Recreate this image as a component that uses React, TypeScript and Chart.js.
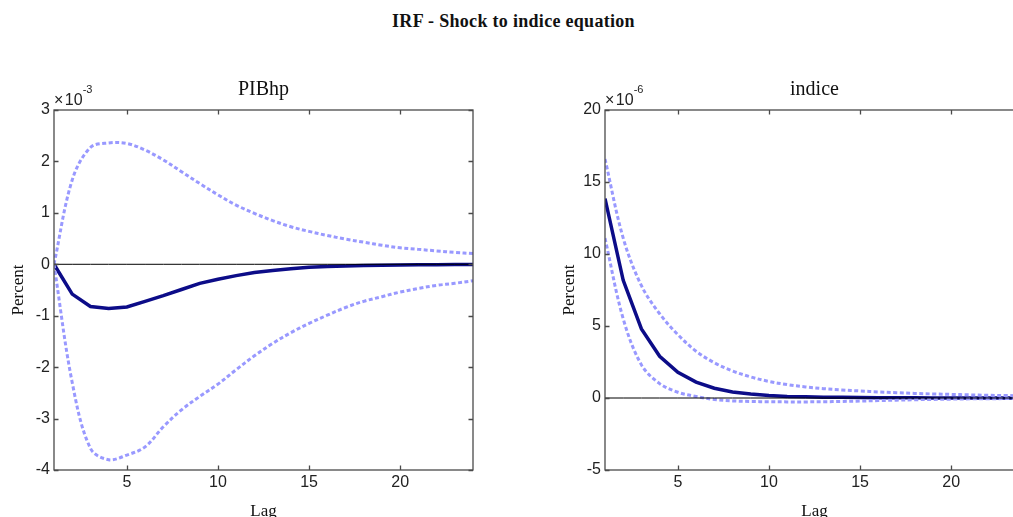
import React, { useEffect, useRef } from "react";
import { Chart, registerables } from "chart.js";

Chart.register(...registerables);

// ---- data ----
const lags = [1, 2, 3, 4, 5, 6, 7, 8, 9, 10, 11, 12, 13, 14, 15, 16, 17, 18, 19, 20, 21, 22, 23, 24];
const xTickValues = [5, 10, 15, 20];

// PIBhp response (units of 1e-3)
const pibhpMedian = [0, -0.58, -0.82, -0.86, -0.83, -0.72, -0.61, -0.49, -0.37, -0.29, -0.22, -0.16, -0.12, -0.085, -0.06, -0.045, -0.033, -0.024, -0.018, -0.013, -0.01, -0.007, -0.005, -0.004];
const pibhpUpper = [0, 1.64, 2.27, 2.36, 2.35, 2.22, 2.03, 1.8, 1.57, 1.35, 1.15, 0.99, 0.85, 0.73, 0.64, 0.56, 0.49, 0.43, 0.37, 0.32, 0.29, 0.26, 0.23, 0.21];
const pibhpLower = [0, -2.3, -3.58, -3.8, -3.71, -3.55, -3.16, -2.83, -2.57, -2.33, -2.05, -1.78, -1.54, -1.33, -1.15, -0.99, -0.84, -0.72, -0.63, -0.54, -0.47, -0.41, -0.37, -0.32];
const pibhpYTicks = [-4, -3, -2, -1, 0, 1, 2, 3];

// indice response (units of 1e-6)
const indiceMedian = [13.85, 8.17, 4.8, 2.9, 1.79, 1.1, 0.68, 0.42, 0.27, 0.17, 0.11, 0.08, 0.06, 0.045, 0.03, 0.02, 0.015, 0.01, 0.007, 0.005, 0.004, 0.003, 0.002, 0.001];
const indiceUpper = [16.6, 11.1, 7.8, 5.85, 4.4, 3.25, 2.45, 1.88, 1.46, 1.15, 0.93, 0.77, 0.65, 0.56, 0.49, 0.42, 0.37, 0.32, 0.28, 0.25, 0.22, 0.19, 0.17, 0.15];
const indiceLower = [11.1, 5.5, 2.3, 1.0, 0.4, 0.1, -0.1, -0.2, -0.24, -0.26, -0.27, -0.27, -0.26, -0.24, -0.21, -0.18, -0.15, -0.12, -0.1, -0.08, -0.06, -0.05, -0.04, -0.03];
const indiceYTicks = [-5, 0, 5, 10, 15, 20];

const zeroLine = [0, 0, 0, 0, 0, 0, 0, 0, 0, 0, 0, 0, 0, 0, 0, 0, 0, 0, 0, 0, 0, 0, 0, 0];

// ---- styles ----
const SERIF = '"Liberation Serif", "DejaVu Serif", serif';
const SANS = '"Liberation Sans", Arial, sans-serif';
const MEDIAN_COLOR = "#0c0c88";
const BAND_COLOR = "#9999ff";
const FRAME_COLOR = "#4a4a4a";

function framePlugin(expText: string) {
  return {
    id: "matlabFrame",
    afterDraw(chart: any) {
      const { ctx, chartArea: a, scales } = chart;
      ctx.save();
      ctx.strokeStyle = FRAME_COLOR;
      ctx.lineWidth = 1.3;
      ctx.strokeRect(a.left, a.top, a.right - a.left, a.bottom - a.top);
      const tl = 4.5;
      ctx.beginPath();
      scales.x.ticks.forEach((t: any) => {
        const px = Math.round(scales.x.getPixelForValue(t.value)) + 0.5;
        ctx.moveTo(px, a.bottom);
        ctx.lineTo(px, a.bottom - tl);
        ctx.moveTo(px, a.top);
        ctx.lineTo(px, a.top + tl);
      });
      scales.y.ticks.forEach((t: any) => {
        const py = Math.round(scales.y.getPixelForValue(t.value)) + 0.5;
        ctx.moveTo(a.left, py);
        ctx.lineTo(a.left + tl, py);
        ctx.moveTo(a.right, py);
        ctx.lineTo(a.right - tl, py);
      });
      ctx.stroke();
      // exponent label
      ctx.fillStyle = "#222";
      ctx.textAlign = "left";
      ctx.textBaseline = "alphabetic";
      ctx.font = `16px ${SANS}`;
      ctx.fillText("\u00d7", a.left, a.top - 5);
      const wx = ctx.measureText("\u00d7").width;
      ctx.fillText("10", a.left + wx + 1.5, a.top - 5);
      const w10 = ctx.measureText("10").width;
      ctx.font = `11px ${SANS}`;
      ctx.fillText(expText, a.left + wx + 1.5 + w10, a.top - 17);
      ctx.restore();
    },
  };
}

type PanelProps = {
  title: string;
  expText: string;
  median: number[];
  upper: number[];
  lower: number[];
  yTicks: number[];
  left: number;
};

function Panel({ title, expText, median, upper, lower, yTicks, left }: PanelProps) {
  const ref = useRef<HTMLCanvasElement | null>(null);
  useEffect(() => {
    if (!ref.current) return;
    const pts = (arr: number[]) => lags.map((l, i) => ({ x: l, y: arr[i] }));
    const band = (arr: number[]) => ({
      data: pts(arr),
      borderColor: BAND_COLOR,
      borderWidth: 3,
      borderDash: [4, 2.5],
      borderCapStyle: "butt",
      pointRadius: 0,
      tension: 0.35,
      fill: false,
    });
    const tickFont = { family: SANS, size: 16 };
    const chart = new Chart(ref.current, {
      type: "line",
      data: {
        datasets: [
          { data: pts(zeroLine), borderColor: "#000", borderWidth: 1, pointRadius: 0, tension: 0 },
          band(upper),
          band(lower),
          { data: pts(median), borderColor: MEDIAN_COLOR, borderWidth: 3.5, pointRadius: 0, tension: 0 },
        ] as any,
      },
      options: {
        animation: false,
        responsive: false,
        events: [],
        layout: { padding: { left: 0, right: 54, top: 0, bottom: 0 } },
        plugins: {
          legend: { display: false },
          tooltip: { enabled: false },
          title: {
            display: true,
            text: title,
            fullSize: false,
            color: "#111",
            font: { family: SERIF, size: 20, weight: "normal" },
            padding: { top: 78, bottom: 8 },
          },
        },
        scales: {
          x: {
            type: "linear",
            min: lags[0],
            max: lags[lags.length - 1],
            grid: { display: false, drawTicks: false },
            border: { display: false },
            afterBuildTicks: (s: any) => {
              s.ticks = xTickValues.map((v) => ({ value: v }));
            },
            afterFit: (s: any) => {
              s.height = 47;
            },
            ticks: { font: tickFont, color: "#222", padding: 3, maxRotation: 0, autoSkip: false },
            title: {
              display: true,
              text: "Lag",
              color: "#111",
              font: { family: SERIF, size: 17, lineHeight: 1 },
              padding: { top: 0, bottom: -3 },
            },
          },
          y: {
            type: "linear",
            min: yTicks[0],
            max: yTicks[yTicks.length - 1],
            grid: { display: false, drawTicks: false },
            border: { display: false },
            afterBuildTicks: (s: any) => {
              s.ticks = yTicks.map((v) => ({ value: v }));
            },
            afterFit: (s: any) => {
              s.width = 54;
            },
            ticks: { font: tickFont, color: "#222", padding: 4, autoSkip: false },
            title: {
              display: true,
              text: "Percent",
              color: "#111",
              font: { family: SERIF, size: 17 },
              padding: { top: 8, bottom: 0 },
            },
          },
        },
      } as any,
      plugins: [framePlugin(expText)],
    });
    return () => chart.destroy();
  }, []);
  return (
    <canvas
      ref={ref}
      width={527}
      height={517}
      style={{ position: "absolute", left, top: 0, width: 527, height: 517 }}
    />
  );
}

export default function App() {
  return (
    <div
      style={{
        position: "absolute",
        left: 0,
        top: 0,
        width: 1013,
        height: 517,
        overflow: "hidden",
        background: "#fff",
      }}
    >
      <div
        style={{
          position: "absolute",
          left: 0,
          top: 9,
          width: 1027,
          textAlign: "center",
          fontFamily: SERIF,
          fontWeight: "bold",
          fontSize: 18,
          letterSpacing: "0.3px",
          lineHeight: "24px",
          color: "#111",
        }}
      >
        IRF - Shock to indice equation
      </div>
      <Panel
        title="PIBhp"
        expText="-3"
        median={pibhpMedian}
        upper={pibhpUpper}
        lower={pibhpLower}
        yTicks={pibhpYTicks}
        left={0}
      />
      <Panel
        title="indice"
        expText="-6"
        median={indiceMedian}
        upper={indiceUpper}
        lower={indiceLower}
        yTicks={indiceYTicks}
        left={551}
      />
    </div>
  );
}
